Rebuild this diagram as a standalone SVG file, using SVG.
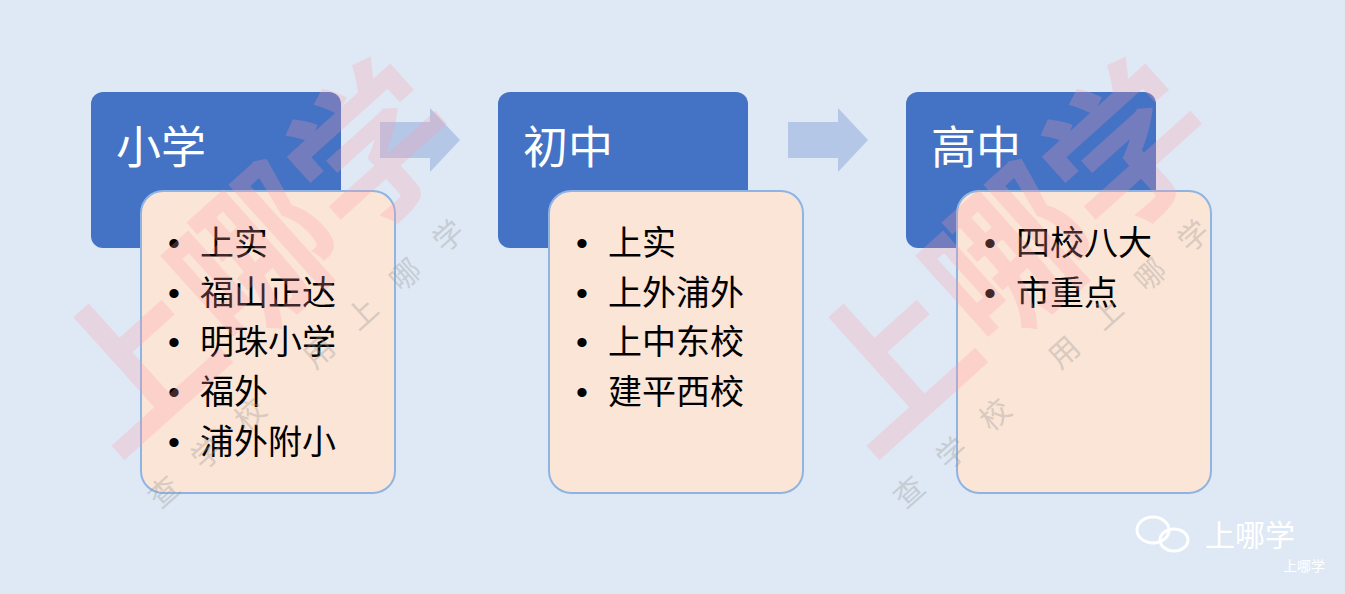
<svg xmlns="http://www.w3.org/2000/svg" width="1345" height="594" viewBox="0 0 1345 594">
<style>
.hd{fill:#4472c4}
.bd{fill:#fbe5d6;stroke:#8eb4e3;stroke-width:2}
.ar{fill:#b4c7e7}
.t{font-family:"Liberation Sans","Noto Sans CJK SC",sans-serif;fill:#fff;font-size:45px}
.b{font-family:"Liberation Sans","Noto Sans CJK SC",sans-serif;fill:#000;font-size:34px}
.wm{font-family:"Noto Sans CJK SC",sans-serif;fill:#ff9aa8;opacity:0.25;font-size:160px;font-weight:bold}
.wg{font-family:"Noto Sans CJK SC",sans-serif;fill:#999;opacity:0.35;font-size:30px;letter-spacing:28px}
</style>
<rect width="1345" height="594" fill="#dfe9f5"/>
<g id="connectors">
<polygon class="ar" points="380,122 430,122 430,108 460,140 430,172 430,158 380,158"/>
<polygon class="ar" points="788,122 838,122 838,108 868,140 838,172 838,158 788,158"/>
</g>
<g id="n1">
<rect class="hd" x="91" y="92" width="250" height="156" rx="12"/>
<text class="t" x="116" y="164">小学</text>
<rect class="bd" x="141" y="191" width="254" height="302" rx="22"/>
<g class="b"><text x="168" y="255">•</text><text x="200" y="255">上实</text>
<text x="168" y="305">•</text><text x="200" y="305">福山正达</text>
<text x="168" y="354">•</text><text x="200" y="354">明珠小学</text>
<text x="168" y="404">•</text><text x="200" y="404">福外</text>
<text x="168" y="454">•</text><text x="200" y="454">浦外附小</text></g>
</g>
<g id="n2">
<rect class="hd" x="498" y="92" width="250" height="156" rx="12"/>
<text class="t" x="523" y="164">初中</text>
<rect class="bd" x="549" y="191" width="254" height="302" rx="22"/>
<g class="b"><text x="576" y="255">•</text><text x="608" y="255">上实</text>
<text x="576" y="305">•</text><text x="608" y="305">上外浦外</text>
<text x="576" y="354">•</text><text x="608" y="354">上中东校</text>
<text x="576" y="404">•</text><text x="608" y="404">建平西校</text></g>
</g>
<g id="n3">
<rect class="hd" x="906" y="92" width="250" height="156" rx="12"/>
<text class="t" x="931" y="164">高中</text>
<rect class="bd" x="957" y="191" width="254" height="302" rx="22"/>
<g class="b"><text x="984" y="255">•</text><text x="1016" y="255">四校八大</text>
<text x="984" y="305">•</text><text x="1016" y="305">市重点</text></g>
</g>
<g id="watermarks">
<text class="wm" transform="translate(115,460) rotate(-42)">上哪学</text>
<text class="wm" transform="translate(870,460) rotate(-42)">上哪学</text>
<text class="wg" transform="translate(160,510) rotate(-42)">查学校 用上哪学</text>
<text class="wg" transform="translate(905,510) rotate(-42)">查学校 用上哪学</text>
<ellipse cx="1153" cy="530" rx="16" ry="13" fill="none" stroke="#fff" stroke-width="3"/>
<ellipse cx="1174" cy="540" rx="14" ry="11" fill="none" stroke="#fff" stroke-width="3"/>
<text x="1205" y="546" font-family="Noto Sans CJK SC,sans-serif" font-size="30" fill="#fff">上哪学</text>
<text x="1283" y="571" font-family="Noto Sans CJK SC,sans-serif" font-size="14" fill="#fff">上哪学</text>
</g>
</svg>
